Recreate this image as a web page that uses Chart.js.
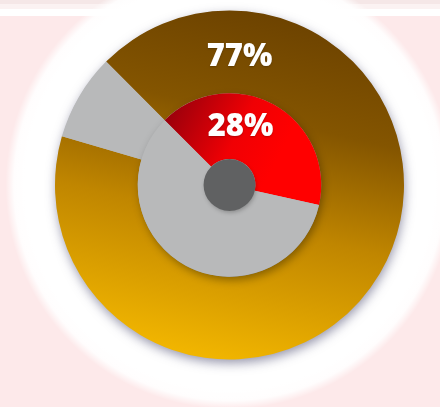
<!DOCTYPE html>
<html><head><meta charset="utf-8">
<script src="https://cdn.jsdelivr.net/npm/chart.js@4.4.0/dist/chart.umd.min.js"></script>
<style>html,body{margin:0;padding:0;background:#fde9ea;overflow:hidden}
#wrap{width:440px;height:407px;position:relative}</style></head>
<body><div id="wrap"><canvas id="c" width="440" height="407"></canvas></div>
<script>
// Values shown as labels
const ringNames = ['Outer ring', 'Inner ring'];
const shownPercents = [77, 28];
// Visible share of each ring's coloured arc vs. grey remainder
const outerShares = [92, 8];
const innerShares = [41, 59];
const centerDot = [1];
const startAngle = -45;

const GREY = '#b8b9ba';

function outerGrad(ctx) {
  const a = ctx.chart.chartArea;
  if (!a) return '#b07a00';
  const cx = (a.left + a.right) / 2, cy = (a.top + a.bottom) / 2;
  const g = ctx.chart.ctx.createLinearGradient(cx + 45, cy - 175, cx - 35, cy + 175);
  g.addColorStop(0, '#6c4200');
  g.addColorStop(0.3, '#845500');
  g.addColorStop(0.6, '#c08600');
  g.addColorStop(1, '#f3b700');
  return g;
}
function redGrad(ctx) {
  const a = ctx.chart.chartArea;
  if (!a) return '#e00000';
  const cx = (a.left + a.right) / 2, cy = (a.top + a.bottom) / 2;
  const g = ctx.chart.ctx.createLinearGradient(cx - 65, cy - 65, cx + 40, cy - 10);
  g.addColorStop(0, '#9a000c');
  g.addColorStop(0.6, '#f00004');
  g.addColorStop(1, '#ff0000');
  return g;
}

const bgPlugin = {
  id: 'bg',
  beforeDraw(chart) {
    const c = chart.ctx;
    c.save();
    c.fillStyle = '#fde9ea';
    c.fillRect(0, 0, chart.width, chart.height);
    c.fillStyle = '#f5e7e7';
    c.fillRect(0, 0, chart.width, 4);
    c.fillStyle = '#fbf2f2';
    c.fillRect(0, 4, chart.width, 5);
    c.fillStyle = '#ffffff';
    c.fillRect(0, 9, chart.width, 7);
    const m = chart.getDatasetMeta(0).data[0];
    if (m) {
      const rg = c.createRadialGradient(m.x, m.y, 205, m.x, m.y, 224);
      rg.addColorStop(0, 'rgba(255,255,255,1)');
      rg.addColorStop(0.55, 'rgba(255,255,255,0.92)');
      rg.addColorStop(1, 'rgba(255,255,255,0)');
      c.fillStyle = rg;
      c.beginPath(); c.arc(m.x, m.y, 224, 0, Math.PI * 2); c.fill();
    }
    c.restore();
  }
};

// soft drop shadow under each ring (drawn as a disc beneath the library's arcs)
const shadowPlugin = {
  id: 'shadows',
  beforeDatasetDraw(chart, args) {
    const m = args.meta.data[0];
    if (!m) return;
    const c = chart.ctx;
    c.save();
    if (args.index === 0) {
      c.shadowColor = 'rgba(60,60,100,0.55)'; c.shadowBlur = 11; c.shadowOffsetX = 1; c.shadowOffsetY = 4;
    } else if (args.index === 1) {
      c.shadowColor = 'rgba(0,0,0,0.35)'; c.shadowBlur = 8; c.shadowOffsetX = 2; c.shadowOffsetY = 4;
    } else {
      c.shadowColor = 'rgba(0,0,0,0.25)'; c.shadowBlur = 4; c.shadowOffsetX = 1; c.shadowOffsetY = 2;
    }
    c.fillStyle = GREY;
    c.beginPath(); c.arc(m.x, m.y, m.outerRadius - 0.5, 0, Math.PI * 2); c.fill();
    c.restore();
  }
};

const labelPlugin = {
  id: 'labels',
  afterDatasetsDraw(chart) {
    const c = chart.ctx;
    const m = chart.getDatasetMeta(0).data[0];
    c.save();
    c.fillStyle = '#ffffff';
    c.font = '800 31px "Open Sans"';
    c.textAlign = 'center';
    c.textBaseline = 'middle';
    c.shadowColor = 'rgba(0,0,0,0.25)'; c.shadowBlur = 2; c.shadowOffsetY = 1;
    c.fillText(shownPercents[0] + '%', m.x + 10, m.y - 128);
    c.fillText(shownPercents[1] + '%', m.x + 11, m.y - 58);
    c.restore();
  }
};

new Chart(document.getElementById('c'), {
  type: 'doughnut',
  data: {
    labels: ['value', 'rest'],
    datasets: [
      { label: ringNames[0], data: outerShares, backgroundColor: (ctx) => ctx.dataIndex === 0 ? outerGrad(ctx) : GREY, weight: 83, borderWidth: 0, hoverOffset: 0, clip: false, order: 3 },
      { label: ringNames[1], data: innerShares, backgroundColor: (ctx) => ctx.dataIndex === 0 ? redGrad(ctx) : GREY, weight: 66, borderWidth: 0, hoverOffset: 0, clip: false, order: 2 },
      { label: 'center', data: centerDot, backgroundColor: '#606162', weight: 26, borderWidth: 0, hoverOffset: 0, clip: false, order: 1 }
    ]
  },
  options: {
    responsive: false,
    devicePixelRatio: 1,
    animation: false,
    events: [],
    cutout: 0,
    rotation: startAngle,
    layout: { padding: { left: 55, right: 36, top: 10, bottom: 47 } },
    plugins: { legend: { display: false }, tooltip: { enabled: false } }
  },
  plugins: [bgPlugin, shadowPlugin, labelPlugin]
});
</script>
</body></html>
